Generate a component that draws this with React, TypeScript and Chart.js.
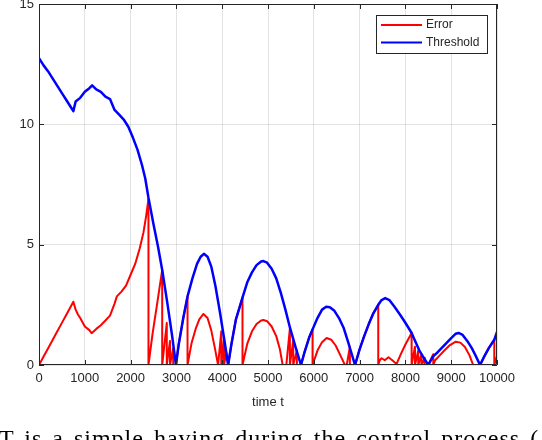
import React, { useEffect, useRef } from "react";
import { Chart, registerables } from "chart.js";

Chart.register(...registerables);

const xTicks = [0, 1000, 2000, 3000, 4000, 5000, 6000, 7000, 8000, 9000, 10000];
const yTicks = [0, 5, 10, 15];

const thrT = [0, 100, 200, 300, 400, 500, 600, 700, 750, 800, 900, 1000, 1100, 1160, 1250, 1350, 1450, 1550, 1650, 1750, 1850, 1950, 2050, 2150, 2250, 2320, 2390, 2500, 2600, 2690, 2800, 2900, 2990, 3050, 3150, 3243, 3350, 3450, 3530, 3600, 3680, 3760, 3850, 3950, 4050, 4130, 4200, 4300, 4443, 4550, 4650, 4750, 4850, 4900, 4980, 5080, 5180, 5280, 5380, 5480, 5600, 5720, 5800, 5900, 5973, 6080, 6180, 6270, 6350, 6450, 6550, 6650, 6750, 6900, 7000, 7100, 7200, 7300, 7407, 7480, 7560, 7650, 7770, 7880, 7960, 8050, 8136, 8200, 8300, 8400, 8500, 8600, 8700, 8800, 8900, 9000, 9100, 9160, 9250, 9350, 9450, 9530, 9630, 9720, 9820, 9941, 10000];
const thrV = [12.75, 12.45, 12.2, 11.9, 11.6, 11.3, 11.0, 10.7, 10.55, 10.95, 11.1, 11.35, 11.5, 11.62, 11.45, 11.35, 11.15, 11.05, 10.6, 10.4, 10.2, 9.9, 9.45, 8.95, 8.3, 7.75, 6.95, 5.85, 4.9, 3.95, 2.6, 1.3, 0, 0.85, 1.95, 2.85, 3.6, 4.2, 4.5, 4.62, 4.5, 4.1, 3.3, 2.2, 1.0, 0, 0.85, 1.9, 2.8, 3.45, 3.85, 4.15, 4.3, 4.32, 4.25, 4.0, 3.6, 3.0, 2.3, 1.55, 0.75, 0, 0.55, 1.15, 1.48, 1.95, 2.3, 2.42, 2.4, 2.25, 1.95, 1.55, 0.95, 0, 0.65, 1.2, 1.7, 2.15, 2.5, 2.7, 2.78, 2.7, 2.4, 2.1, 1.87, 1.6, 1.33, 1.05, 0.62, 0.3, 0, 0.35, 0.52, 0.72, 0.92, 1.12, 1.3, 1.33, 1.25, 1.0, 0.7, 0.4, 0, 0.35, 0.7, 1.05, 1.38];

const errT = [0, 100, 200, 300, 400, 500, 600, 700, 750, 800, 850, 900, 1000, 1100, 1150, 1250, 1350, 1450, 1550, 1650, 1700, 1800, 1900, 2000, 2100, 2200, 2280, 2340, 2390, 2390, 2480, 2580, 2690, 2690, 2790, 2790, 2860, 2860, 2930, 2930, 2990, 3050, 3150, 3243, 3243, 3330, 3420, 3500, 3590, 3680, 3760, 3840, 3910, 3980, 3980, 4040, 4040, 4090, 4130, 4200, 4300, 4443, 4443, 4550, 4650, 4750, 4850, 4900, 4980, 5080, 5180, 5260, 5320, 5400, 5478, 5478, 5550, 5550, 5630, 5630, 5720, 5800, 5900, 5973, 5973, 6080, 6180, 6280, 6380, 6480, 6580, 6679, 6720, 6788, 6788, 6900, 7000, 7100, 7200, 7300, 7407, 7407, 7440, 7480, 7550, 7630, 7700, 7770, 7808, 7900, 8000, 8136, 8136, 8209, 8209, 8281, 8281, 8350, 8350, 8420, 8420, 8500, 8608, 8608, 8650, 8755, 8850, 8973, 9100, 9200, 9300, 9400, 9480, 9630, 9720, 9820, 9941, 9941, 10000];
const errV = [0, 0.35, 0.7, 1.05, 1.4, 1.75, 2.1, 2.45, 2.63, 2.3, 2.1, 1.95, 1.6, 1.45, 1.32, 1.5, 1.65, 1.85, 2.05, 2.55, 2.85, 3.05, 3.3, 3.75, 4.2, 4.85, 5.5, 6.2, 6.9, 0, 1.3, 2.55, 3.95, 0, 1.74, 0, 1.0, 0, 0.7, 0, 0, 0.85, 1.95, 2.85, 0, 0.9, 1.5, 1.9, 2.12, 1.95, 1.45, 0.7, 0, 1.4, 0, 1.1, 0, 0.5, 0, 0.85, 1.9, 2.8, 0, 0.9, 1.4, 1.7, 1.85, 1.87, 1.82, 1.6, 1.2, 0.65, 0, 0, 1.52, 0, 1.0, 0, 0.6, 0, 0, 0.55, 1.15, 1.48, 0, 0.6, 0.95, 1.12, 1.05, 0.8, 0.4, 0, 0, 0.76, 0, 0, 0.65, 1.2, 1.7, 2.15, 2.5, 0, 0.2, 0.28, 0.2, 0.32, 0.22, 0.1, 0.05, 0.45, 0.85, 1.33, 0, 0.76, 0, 0.6, 0, 0.45, 0, 0.3, 0, 0, 0.45, 0, 0.2, 0.41, 0.6, 0.83, 0.97, 0.93, 0.75, 0.4, 0, 0, 0.35, 0.7, 1.05, 0, 0.37];

const seriesNames = ["Error", "Threshold"];
const seriesColors = ["#ff0000", "#0000ff"];

const AXIS = "#262626";
const FONT = "'Liberation Sans', Arial, Helvetica, sans-serif";

const boxPlugin = {
  id: "matlabBox",
  afterDraw(chart: any) {
    const { ctx, chartArea } = chart;
    const { left, right, top, bottom } = chartArea;
    const xs = chart.scales.x;
    const ys = chart.scales.y;
    ctx.save();
    ctx.strokeStyle = AXIS;
    ctx.lineWidth = 1;
    ctx.beginPath();
    ctx.rect(left + 0.5, top + 0.5, right - left - 1, bottom - top - 1);
    ctx.stroke();
    const tl = 5;
    ctx.beginPath();
    xTicks.forEach((v) => {
      const px = Math.round(xs.getPixelForValue(v)) + 0.5;
      ctx.moveTo(px, bottom);
      ctx.lineTo(px, bottom - tl);
      ctx.moveTo(px, top);
      ctx.lineTo(px, top + tl);
    });
    yTicks.forEach((v) => {
      const py = Math.round(ys.getPixelForValue(v)) + 0.5;
      ctx.moveTo(left, py);
      ctx.lineTo(left + tl, py);
      ctx.moveTo(right, py);
      ctx.lineTo(right - tl, py);
    });
    ctx.stroke();

    // legend
    const lx = 376, ly = 15, lw = 111, lh = 38;
    ctx.fillStyle = "#ffffff";
    ctx.fillRect(lx, ly, lw, lh);
    ctx.strokeStyle = AXIS;
    ctx.lineWidth = 1;
    ctx.strokeRect(lx + 0.5, ly + 0.5, lw, lh);
    ctx.font = `12px ${FONT}`;
    ctx.textBaseline = "middle";
    ctx.textAlign = "left";
    seriesNames.forEach((name, i) => {
      const y = ly + 10 + i * 17.5;
      ctx.strokeStyle = seriesColors[i];
      ctx.lineWidth = 2;
      ctx.beginPath();
      ctx.moveTo(381, y);
      ctx.lineTo(422, y);
      ctx.stroke();
      ctx.fillStyle = AXIS;
      ctx.fillText(name, 426, y);
    });
    ctx.restore();
  },
};

export default function App() {
  const ref = useRef<HTMLCanvasElement | null>(null);
  useEffect(() => {
    if (!ref.current) return;
    const chart = new Chart(ref.current, {
      type: "line",
      data: {
        datasets: [
          {
            label: seriesNames[0],
            data: errT.map((t, i) => ({ x: t, y: errV[i] })),
            borderColor: seriesColors[0],
            borderWidth: 2,
            pointRadius: 0,
            tension: 0,
            fill: false,
            order: 2,
          },
          {
            label: seriesNames[1],
            data: thrT.map((t, i) => ({ x: t, y: thrV[i] })),
            borderColor: seriesColors[1],
            borderWidth: 2.5,
            pointRadius: 0,
            tension: 0,
            fill: false,
            order: 1,
          },
        ],
      },
      options: {
        animation: false,
        responsive: false,
        devicePixelRatio: 1,
        layout: { padding: { left: 0, top: 4, right: 45, bottom: 25 } },
        plugins: { legend: { display: false }, tooltip: { enabled: false } },
        elements: { line: { borderJoinStyle: "round", borderCapStyle: "round" } },
        scales: {
          x: {
            type: "linear",
            min: 0,
            max: 10000,
            afterBuildTicks: (s: any) => {
              s.ticks = xTicks.map((v) => ({ value: v }));
            },
            afterFit: (s: any) => {
              s.height = 50;
              s.paddingLeft = 0;
              s.paddingRight = 0;
            },
            ticks: {
              autoSkip: false,
              maxRotation: 0,
              padding: 6,
              color: AXIS,
              font: { family: FONT, size: 13 },
              callback: (v: any) => String(v),
            },
            grid: { color: "rgba(38,38,38,0.13)", drawTicks: false, lineWidth: 1 },
            border: { display: false },
            title: {
              display: true,
              text: "time t",
              color: AXIS,
              font: { family: FONT, size: 13 },
              padding: { top: 0, bottom: 5 },
            },
          },
          y: {
            type: "linear",
            min: 0,
            max: 15,
            afterBuildTicks: (s: any) => {
              s.ticks = yTicks.map((v) => ({ value: v }));
            },
            afterFit: (s: any) => {
              s.width = 39;
              s.paddingTop = 0;
              s.paddingBottom = 0;
            },
            ticks: {
              padding: 5,
              color: AXIS,
              font: { family: FONT, size: 13 },
              callback: (v: any) => String(v),
            },
            grid: { color: "rgba(38,38,38,0.13)", drawTicks: false, lineWidth: 1 },
            border: { display: false },
          },
        },
      },
      plugins: [boxPlugin],
    });
    return () => chart.destroy();
  }, []);

  return (
    <div
      style={{
        position: "fixed",
        left: 0,
        top: 0,
        width: 542,
        height: 440,
        overflow: "hidden",
        background: "#ffffff",
      }}
    >
      <canvas ref={ref} width={542} height={440} style={{ display: "block" }} />
      <div
        style={{
          position: "absolute",
          left: -1,
          top: 424,
          fontFamily: "'Liberation Serif', 'Times New Roman', serif",
          fontSize: 24,
          lineHeight: "28px",
          whiteSpace: "nowrap",
          color: "#000",
          letterSpacing: 1,
          wordSpacing: 3,
        }}
      >
        T is a simple having during the control process (
      </div>
    </div>
  );
}
